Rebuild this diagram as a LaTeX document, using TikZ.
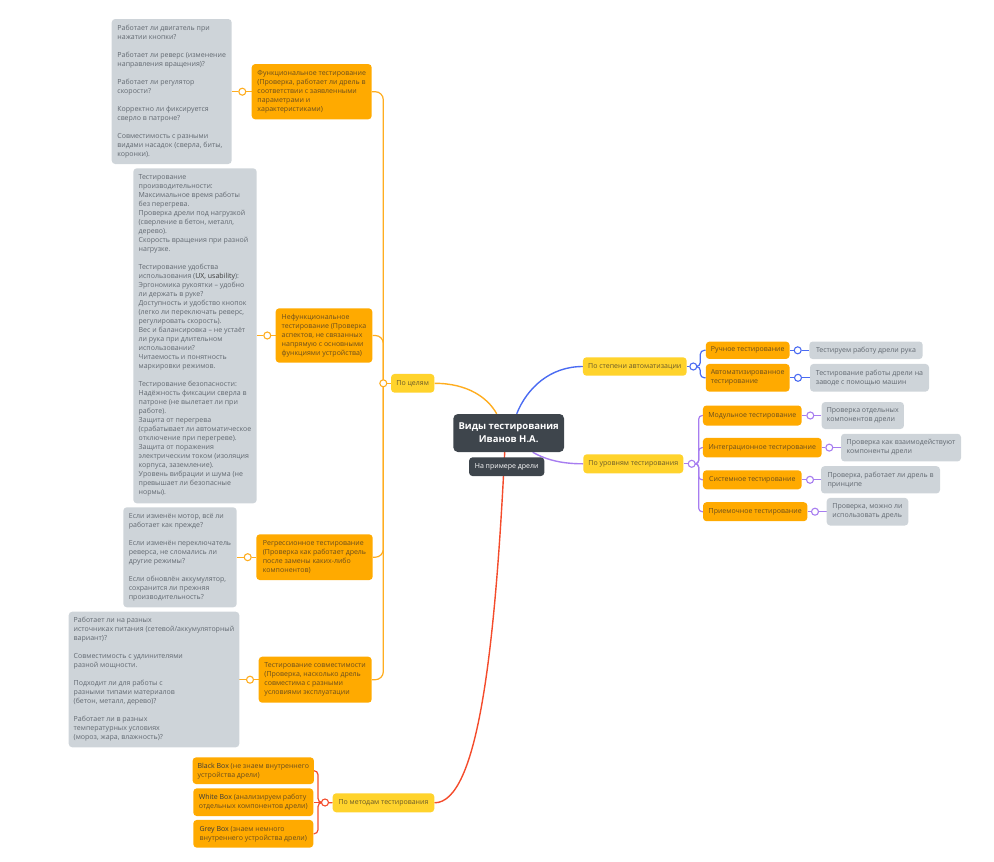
\documentclass[tikz,border=0pt]{standalone}
\usepackage{fontspec}
\setmainfont{Open Sans}
\usetikzlibrary{backgrounds}

\definecolor{cYel}{HTML}{FFD32C}
\definecolor{cOra}{HTML}{FFAA00}
\definecolor{cGry}{HTML}{CED4D9}
\definecolor{cDark}{HTML}{3E454C}
\definecolor{cOraLine}{HTML}{FFAD1F}
\definecolor{cBlue}{HTML}{4A6BF2}
\definecolor{cPurp}{HTML}{A77DF0}
\definecolor{cRed}{HTML}{F44B2B}
\definecolor{cGryTxt}{HTML}{626971}
\definecolor{cOraTxt}{HTML}{6A4E1E}
\definecolor{cYelTxt}{HTML}{6A5A2A}
\definecolor{cLat}{HTML}{3A3A3A}

\newcommand\latw[1]{\textcolor{cLat}{#1}}

\begin{document}
\begin{tikzpicture}[x=1pt,y=-1pt,
  mmbox/.style={rectangle, rounded corners=3.5pt, inner xsep=5pt, inner ysep=2pt,
    align=left, font=\fontsize{7}{9}\selectfont},
  sz/.style 2 args={minimum width=#1, minimum height=#2},
  ybox/.style={mmbox, fill=cYel, text=cYelTxt},
  obox/.style={mmbox, fill=cOra, text=cOraTxt},
  gbox/.style={mmbox, fill=cGry, text=cGryTxt},
  cbox/.style={mmbox, rounded corners=4.5pt, fill=cDark, text=white, align=center,
    font=\fontsize{9.5}{13}\selectfont\bfseries},
  dbox/.style={mmbox, fill=cDark, text=white, align=center},
  hubdot/.style={circle, fill=white, line width=1.1pt, minimum size=7pt, inner sep=0pt},
  mainline/.style={line width=1.4pt},
  subline/.style={line width=1.2pt}
]
\useasboundingbox (0,0) rectangle (994,862);

% ---------- centre ----------
\node[cbox, sz={110.7pt}{38pt}] (cen) at (508.7,433) {Виды тестирования\\Иванов Н.А.};
\node[dbox, sz={75.3pt}{18.7pt}] (napr) at (506.7,466.7) {На примере дрели};

% ---------- first level ----------
\node[ybox, sz={43.3pt}{18.7pt}] (pc) at (412.7,383.3) {По целям};
\node[ybox, sz={103.7pt}{18.4pt}] (pst) at (634.8,366.5) {По степени автоматизации};
\node[ybox, sz={100pt}{19pt}] (pur) at (633.3,463.8) {По уровням тестирования};
\node[ybox, sz={101.6pt}{19pt}] (pm) at (383.5,802.8) {По методам тестирования};

\node[hubdot, draw=cOraLine] (hpc) at (383.3,383.3) {};
\node[hubdot, draw=cBlue] (hst) at (693.3,366.5) {};
\node[hubdot, draw=cPurp] (hur) at (691.7,463.8) {};
\node[hubdot, draw=cRed] (hpm) at (325,802.5) {};

% ---------- "По целям" ----------
\node[obox, sz={120pt}{55.3pt}] (func) at (311.7,91.7)
  {Функциональное тестирование\\(Проверка, работает ли дрель в\\соответствии с заявленными\\параметрами и\\характеристиками)};
\node[obox, sz={96.6pt}{54.4pt}] (nonf) at (324,335.5)
  {Нефункциональное\\тестирование (Проверка\\аспектов, не связанных\\напрямую с основными\\функциями устройства)};
\node[obox, sz={116.4pt}{45.7pt}] (regr) at (314.5,557.2)
  {Регрессионное тестирование\\(Проверка как работает дрель\\после замены каких-либо\\компонентов)};
\node[obox, sz={113pt}{46pt}] (comp) at (315.2,679.7)
  {Тестирование совместимости\\(Проверка, насколько дрель\\совместима с разными\\условиями эксплуатации};

\node[gbox, sz={120pt}{145pt}] (g1) at (171.7,91.5)
  {Работает ли двигатель при\\нажатии кнопки?\\[9pt]
   Работает ли реверс (изменение\\направления вращения)?\\[9pt]
   Работает ли регулятор\\скорости?\\[9pt]
   Корректно ли фиксируется\\сверло в патроне?\\[9pt]
   Совместимость с разными\\видами насадок (сверла, биты,\\коронки).};
\node[gbox, sz={123.4pt}{335pt}] (g2) at (195,335.8)
  {Тестирование\\производительности:\\Максимальное время работы\\без перегрева.\\Проверка дрели под нагрузкой\\(сверление в бетон, металл,\\дерево).\\Скорость вращения при разной\\нагрузке.\\[9pt]
   Тестирование удобства\\использования (\latw{UX, usability}):\\Эргономика рукоятки – удобно\\ли держать в руке?\\Доступность и удобство кнопок\\(легко ли переключать реверс,\\регулировать скорость).\\Вес и балансировка – не устаёт\\ли рука при длительном\\использовании?\\Читаемость и понятность\\маркировки режимов.\\[9pt]
   Тестирование безопасности:\\Надёжность фиксации сверла в\\патроне (не вылетает ли при\\работе).\\Защита от перегрева\\(срабатывает ли автоматическое\\отключение при перегреве).\\Защита от поражения\\электрическим током (изоляция\\корпуса, заземление).\\Уровень вибрации и шума (не\\превышает ли безопасные\\нормы).};
\node[gbox, sz={113.4pt}{100pt}] (g3) at (180,557.3)
  {Если изменён мотор, всё ли\\работает как прежде?\\[9pt]
   Если изменён переключатель\\реверса, не сломались ли\\другие режимы?\\[9pt]
   Если обновлён аккумулятор,\\сохранится ли прежняя\\производительность?};
\node[gbox, sz={170pt}{135.6pt}] (g4) at (154,679.5)
  {Работает ли на разных\\источниках питания (сетевой/аккумуляторный\\вариант)?\\[9pt]
   Совместимость с удлинителями\\разной мощности.\\[9pt]
   Подходит ли для работы с\\разными типами материалов\\(бетон, металл, дерево)?\\[9pt]
   Работает ли в разных\\температурных условиях\\(мороз, жара, влажность)?};

\node[hubdot, draw=cOraLine] (c1) at (242.3,91.7) {};
\node[hubdot, draw=cOraLine] (c2) at (267.3,335.5) {};
\node[hubdot, draw=cOraLine] (c3) at (247.7,557.2) {};
\node[hubdot, draw=cOraLine] (c4) at (250,679.7) {};

% ---------- "По методам тестирования" ----------
\node[obox, sz={120pt}{26.7pt}] (bb) at (253.3,770.7)
  {\latw{Black Box} (не знаем внутреннего\\устройства дрели)};
\node[obox, sz={120pt}{27.7pt}] (wb) at (253.3,802.2)
  {\latw{White Box} (анализируем работу\\отдельных компонентов дрели)};
\node[obox, sz={120pt}{27.7pt}] (gb) at (253.3,833.8)
  {\latw{Grey Box} (знаем немного\\внутреннего устройства дрели)};

% ---------- "По степени автоматизации" ----------
\node[obox, sz={83.3pt}{17.3pt}] (ruch) at (747.7,350.3) {Ручное тестирование};
\node[obox, sz={83.3pt}{27.7pt}] (auto) at (747.7,377.8) {Автоматизированное\\тестирование};
\node[gbox, sz={113.4pt}{17.6pt}] (gr1) at (866,350.3) {Тестируем работу дрели рука};
\node[gbox, sz={119pt}{27.7pt}] (gr2) at (869.5,377.8) {Тестирование работы дрели на\\заводе с помощью машин};
\node[hubdot, draw=cBlue] (cr1) at (797.7,350.3) {};
\node[hubdot, draw=cBlue] (cr2) at (798,377.8) {};

% ---------- "По уровням тестирования" ----------
\node[obox, sz={98.7pt}{20pt}] (mod) at (752.3,415.5) {Модульное тестирование};
\node[obox, sz={118.7pt}{19.5pt}] (integ) at (762.3,447.6) {Интеграционное тестирование};
\node[obox, sz={98.7pt}{19pt}] (sys) at (752.3,479.8) {Системное тестирование};
\node[obox, sz={104.3pt}{19pt}] (pri) at (755.2,511.7) {Приемочное тестирование};
\node[gbox, sz={82.3pt}{27pt}] (grm) at (862.8,415.5) {Проверка отдельных\\компонентов дрели};
\node[gbox, sz={120pt}{27.7pt}] (gri) at (901,447.6) {Проверка как взаимодействуют\\компоненты дрели};
\node[gbox, sz={119pt}{27.3pt}] (grs) at (880.5,479.8) {Проверка, работает ли дрель в\\принципе};
\node[gbox, sz={81.6pt}{27.7pt}] (grp) at (867.5,511.7) {Проверка, можно ли\\использовать дрель};
\node[hubdot, draw=cPurp] (cm) at (810.3,415.5) {};
\node[hubdot, draw=cPurp] (ci) at (829.3,447.6) {};
\node[hubdot, draw=cPurp] (cs) at (810,479.8) {};
\node[hubdot, draw=cPurp] (cp) at (815,511.7) {};

% ---------- connectors ----------
\begin{scope}[on background layer]
  % branches leaving the centre
  \draw[mainline, cOraLine] (pc.east) .. controls (468,383.3) and (488,398) .. ([xshift=-12pt]cen.north);
  \draw[mainline, cBlue] ([xshift=8pt]cen.north) .. controls (527,388) and (550,366.5) .. (pst.west);
  \draw[mainline, cPurp] ([xshift=24pt]cen.south) .. controls (548,461) and (565,463.8) .. (pur.west);
  \draw[mainline, cRed] ([xshift=-4pt]cen.south) .. controls (495,650) and (478,802.8) .. (pm.east);

  % "По целям"
  \draw[subline, cOraLine] (pc.west) -- (hpc);
  \foreach \b in {func,nonf,regr,comp}
    \draw[subline, cOraLine, rounded corners=8pt] (hpc.center) |- (\b.east);
  \draw[subline, cOraLine] (g1.east |- c1) -- (c1) -- (func.west);
  \draw[subline, cOraLine] (g2.east |- c2) -- (c2) -- (nonf.west);
  \draw[subline, cOraLine] (g3.east |- c3) -- (c3) -- (regr.west);
  \draw[subline, cOraLine] (g4.east |- c4) -- (c4) -- (comp.west);

  % "По методам тестирования"
  \draw[subline, cRed] (pm.west) -- (hpm);
  \draw[subline, cRed, rounded corners=4pt] (hpm.center) -- ++(-7,0) |- (bb.east);
  \draw[subline, cRed] (hpm.center) -- (hpm -| wb.east);
  \draw[subline, cRed, rounded corners=4pt] (hpm.center) -- ++(-7,0) |- (gb.east);

  % "По степени автоматизации"
  \draw[subline, cBlue] (pst.east) -- (hst);
  \draw[subline, cBlue, rounded corners=4pt] (hst.center) -- ++(7,0) |- (ruch.west);
  \draw[subline, cBlue, rounded corners=4pt] (hst.center) -- ++(7,0) |- (auto.west);
  \draw[subline, cBlue] (ruch.east |- cr1) -- (cr1) -- (cr1 -| gr1.west);
  \draw[subline, cBlue] (auto.east |- cr2) -- (cr2) -- (cr2 -| gr2.west);

  % "По уровням тестирования"
  \draw[subline, cPurp] (pur.east) -- (hur);
  \foreach \b in {mod,integ,sys,pri}
    \draw[subline, cPurp, rounded corners=3.5pt] (hur.center) -- ++(7,0) |- (\b.west);
  \draw[subline, cPurp] (mod.east |- cm) -- (cm) -- (cm -| grm.west);
  \draw[subline, cPurp] (integ.east |- ci) -- (ci) -- (ci -| gri.west);
  \draw[subline, cPurp] (sys.east |- cs) -- (cs) -- (cs -| grs.west);
  \draw[subline, cPurp] (pri.east |- cp) -- (cp) -- (cp -| grp.west);
\end{scope}
\end{tikzpicture}
\end{document}
